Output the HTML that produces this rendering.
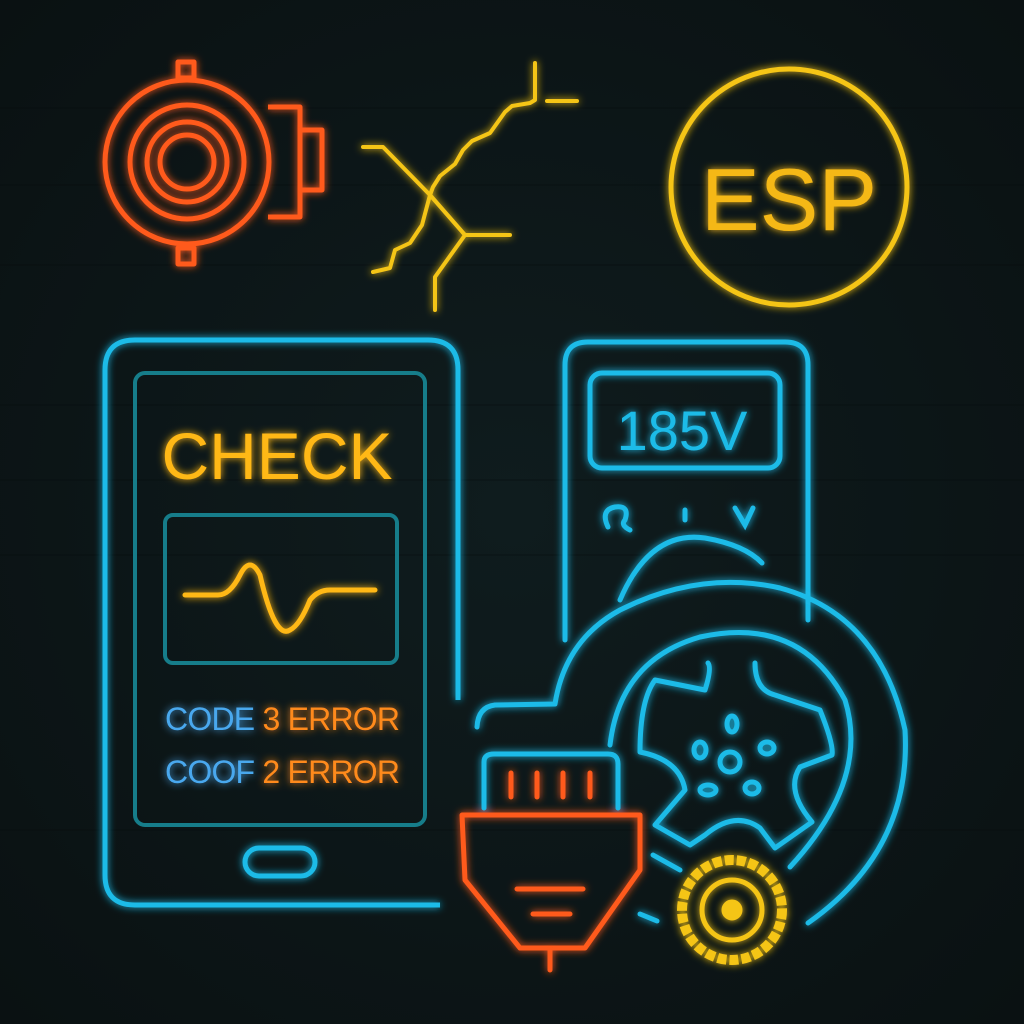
<!DOCTYPE html>
<html><head><meta charset="utf-8"><style>
html,body{margin:0;padding:0;background:#0b1314;}
svg{display:block}
</style></head><body>
<svg width="1024" height="1024" viewBox="0 0 1024 1024" xmlns="http://www.w3.org/2000/svg">
<defs>
<filter id="g" x="-20%" y="-20%" width="140%" height="140%">
<feGaussianBlur stdDeviation="4" result="b"/>
<feMerge><feMergeNode in="b"/><feMergeNode in="SourceGraphic"/></feMerge>
</filter>
<radialGradient id="bg" cx="50%" cy="50%" r="70%"><stop offset="0" stop-color="#0f1c1e"/><stop offset="1" stop-color="#0a1112"/></radialGradient>
</defs>
<rect width="1024" height="1024" fill="url(#bg)"/>
<g stroke="#060c0d" stroke-width="1" opacity="0.5">
<line x1="0" y1="108" x2="1024" y2="108"/><line x1="0" y1="185" x2="1024" y2="185"/><line x1="0" y1="265" x2="1024" y2="265"/><line x1="0" y1="405" x2="1024" y2="405"/><line x1="0" y1="480" x2="1024" y2="480"/><line x1="0" y1="555" x2="1024" y2="555"/><line x1="0" y1="830" x2="1024" y2="830"/>
</g>

<!-- orange sensor -->
<g filter="url(#g)" fill="none" stroke="#ff5a1a" stroke-width="5" stroke-linejoin="round">
<circle cx="187" cy="162" r="82"/>
<circle cx="187" cy="162" r="57"/>
<circle cx="187" cy="162" r="40"/>
<circle cx="187" cy="162" r="27"/>
<rect x="178" y="62" width="16" height="16"/>
<rect x="178" y="248" width="16" height="16"/>
<path d="M268 107 H300 V217 H268"/>
<rect x="300" y="130" width="22" height="60"/>
</g>

<!-- yellow crack -->
<g filter="url(#g)" fill="none" stroke="#f5c518" stroke-width="4" stroke-linecap="round" stroke-linejoin="round">
<path d="M363 147 H383 L430 195 L465 235 H510"/>
<path d="M465 235 L435 277 V310"/>
<path d="M535 63 V100 L530 103 L512 106 L505 112 L490 133 L472 141 L463 150 L455 164 L440 176 L433 187 L430 195 L422 225 L410 243 L395 250 L390 268 L373 272"/>
<path d="M547 101 H577"/>
</g>

<!-- ESP -->
<g filter="url(#g)">
<circle cx="789" cy="187" r="118" fill="none" stroke="#f5c518" stroke-width="5"/>
<text x="789" y="230" text-anchor="middle" font-family="Liberation Sans, sans-serif" font-size="88" fill="#f5b818">ESP</text>
</g>

<!-- phone -->
<g filter="url(#g)" fill="none" stroke="#1ebbe8" stroke-width="5">
<path d="M458 700 V370 Q458 340 428 340 H135 Q105 340 105 370 V875 Q105 905 135 905 H440"/>
<rect x="245" y="848" width="70" height="28" rx="14"/>
</g>
<g fill="none" stroke="#167d8a" stroke-width="4">
<rect x="135" y="373" width="290" height="452" rx="10"/>
<rect x="165" y="515" width="232" height="148" rx="8"/>
</g>
<g filter="url(#g)">
<text x="277" y="479" text-anchor="middle" font-family="Liberation Sans, sans-serif" font-size="66" fill="#ffb812">CHECK</text>
<path d="M185 595 H218 Q230 595 240 575 Q250 555 260 575 Q275 640 290 630 Q300 625 310 600 Q318 590 330 590 H375" fill="none" stroke="#ffb812" stroke-width="5" stroke-linecap="round"/>
<text x="165" y="730" font-family="Liberation Sans, sans-serif" font-size="32" fill="#4aa8ee" textLength="235">CODE <tspan fill="#ff8a1a">3 ERROR</tspan></text>
<text x="165" y="783" font-family="Liberation Sans, sans-serif" font-size="32" fill="#4aa8ee" textLength="235">COOF <tspan fill="#ff8a1a">2 ERROR</tspan></text>
</g>

<!-- multimeter -->
<g filter="url(#g)" fill="none" stroke="#1ebbe8" stroke-width="5" stroke-linecap="round">
<path d="M565 640 V365 Q565 342 588 342 H785 Q808 342 808 365 V620"/>
<rect x="590" y="373" width="190" height="95" rx="12"/>
<path d="M620 600 Q650 530 705 538 Q745 545 762 563"/>
<path d="M608 527 Q600 510 615 507 Q630 505 625 520 Q620 525 630 530"/>
<path d="M685 510 V520"/>
<path d="M735 508 L745 525 L753 508"/>
</g>
<g filter="url(#g)"><text x="682" y="450" text-anchor="middle" font-family="Liberation Sans, sans-serif" font-size="56" fill="#1ebbe8">185V</text></g>

<!-- wheel -->
<g filter="url(#g)" fill="none" stroke="#1ebbe8" stroke-width="5" stroke-linecap="round" stroke-linejoin="round">
<path d="M477 727 Q478 707 495 705 L555 704 Q565 640 620 610 Q700 570 780 588 Q880 615 905 730 Q912 850 808 923"/>
<path d="M610 745 Q620 660 700 637 Q800 615 845 700 Q870 780 790 867"/>
<path d="M655 680 L705 690 Q712 668 708 663 M755 663 Q755 690 775 695 L820 710 Q834 745 832 755 L800 767 Q785 790 812 822 L775 848 L760 828 Q735 810 705 835 L690 845 L655 825 L685 790 Q680 760 640 752 Q640 700 655 680"/>
<circle cx="730" cy="762" r="10"/>
<ellipse cx="732" cy="724" rx="5" ry="8"/>
<ellipse cx="700" cy="750" rx="6" ry="8"/>
<ellipse cx="767" cy="748" rx="7" ry="6"/>
<ellipse cx="708" cy="790" rx="8" ry="5"/>
<ellipse cx="752" cy="788" rx="7" ry="6"/>
<path d="M653 855 L680 870"/>
<path d="M640 914 L657 921"/>
</g>

<!-- OBD -->
<g filter="url(#g)" fill="none" stroke-linecap="round" stroke-linejoin="round">
<path d="M484 808 V762 Q484 754 494 754 H608 Q618 754 618 764 V808" stroke="#1ebbe8" stroke-width="5"/>
<path d="M462 815 H640 V870 L585 948 H520 L465 880 Z" stroke="#ff5a1a" stroke-width="5"/>
<g stroke="#ff5a1a" stroke-width="5">
<path d="M511 773 V797 M537 773 V797 M563 773 V797 M590 773 V797"/>
<path d="M517 889 H583 M533 914 H570 M550 948 V970"/>
</g>
</g>

<!-- yellow gear -->
<g filter="url(#g)" fill="none">
<circle cx="732" cy="910" r="50" stroke="#f5c518" stroke-width="10" stroke-dasharray="9 3"/>
<circle cx="732" cy="910" r="30" stroke="#f5c518" stroke-width="5"/>
<circle cx="732" cy="910" r="9" fill="#f5c518" stroke="#f5c518" stroke-width="3"/>
</g>
</svg>
</body></html>
